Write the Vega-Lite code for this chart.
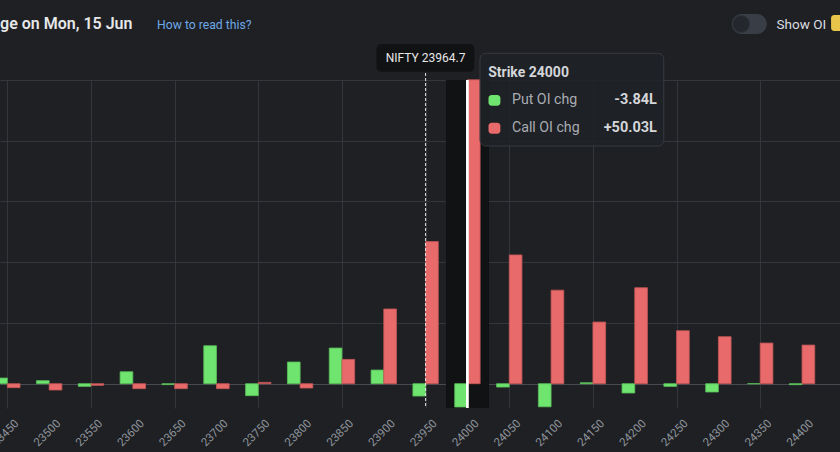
{
  "$schema": "https://vega.github.io/schema/vega-lite/v6.json",
  "width": 840,
  "height": 328,
  "autosize": {"type": "none"},
  "padding": {"top": 80, "left": 0, "right": 0, "bottom": 44},
  "background": "#1e2024",
  "config": {"view": {"stroke": null}, "font": "Roboto"},
  "datasets": {
    "oi": [
      {"strike": 23450, "put": 0.93, "call": -0.65},
      {"strike": 23500, "put": 0.5, "call": -1.04},
      {"strike": 23550, "put": -0.44, "call": -0.27},
      {"strike": 23600, "put": 1.97, "call": -0.82},
      {"strike": 23650, "put": -0.15, "call": -0.82},
      {"strike": 23700, "put": 6.25, "call": -0.82},
      {"strike": 23750, "put": -1.97, "call": 0.22},
      {"strike": 23800, "put": 3.57, "call": -0.71},
      {"strike": 23850, "put": 5.87, "call": 4.0},
      {"strike": 23900, "put": 2.25, "call": 12.3},
      {"strike": 23950, "put": -2.03, "call": 23.4},
      {"strike": 24000, "put": -3.84, "call": 50.03},
      {"strike": 24050, "put": -0.55, "call": 21.2},
      {"strike": 24100, "put": -3.8, "call": 15.4},
      {"strike": 24150, "put": 0.16, "call": 10.15},
      {"strike": 24200, "put": -1.53, "call": 15.8},
      {"strike": 24250, "put": -0.44, "call": 8.72},
      {"strike": 24300, "put": -1.37, "call": 7.74},
      {"strike": 24350, "put": 0, "call": 6.69},
      {"strike": 24400, "put": -0.16, "call": 6.36}
    ],
    "spot": [{"index": "NIFTY", "spot": 23964.7, "atm": 23950}]
  },
  "data": {"name": "oi"},
  "layer": [
    {
      "mark": {"type": "rect", "color": "#111213"},
      "encoding": {
        "x": {"datum": 23975, "type": "quantitative"},
        "x2": {"datum": 24025},
        "y": {"datum": 50, "type": "quantitative"},
        "y2": {"datum": -4}
      }
    },
    {
      "mark": {"type": "bar", "width": 12.7, "xOffset": -6.35, "color": "#6fe46f", "stroke": "#5bbf5b", "strokeWidth": 0.8},
      "encoding": {
        "x": {
          "field": "strike",
          "type": "quantitative",
          "scale": {"domain": [23447.2, 24439.4], "nice": false, "zero": false},
          "axis": {
            "values": [23450, 23500, 23550, 23600, 23650, 23700, 23750, 23800, 23850, 23900, 23950, 24000, 24050, 24100, 24150, 24200, 24250, 24300, 24350, 24400, 24450],
            "format": "d",
            "title": null,
            "grid": true,
            "gridColor": "#33363b",
            "gridOpacity": {"condition": {"test": "datum.value % 100 === 50", "value": 1}, "value": 0},
            "ticks": false,
            "domain": false,
            "labelAngle": -45,
            "labelAlign": "center",
            "labelBaseline": "middle",
            "labelPadding": 25,
            "labelOffset": -2,
            "labelColor": "#8f949b",
            "labelFontSize": 11.5,
            "labelOverlap": false,
            "labelFlush": false,
            "labelBound": false
          }
        },
        "y": {
          "field": "put",
          "type": "quantitative",
          "stack": null,
          "scale": {"domain": [-4, 50], "nice": false, "zero": false},
          "axis": {
            "values": [0, 10, 20, 30, 40, 50],
            "title": null,
            "grid": true,
            "gridColor": {"condition": {"test": "datum.value === 0", "value": "#474a50"}, "value": "#33363b"},
            "labels": false,
            "ticks": false,
            "domain": false
          }
        },
        "y2": {"datum": 0}
      }
    },
    {
      "mark": {"type": "bar", "width": 12.7, "xOffset": 6.35, "color": "#e86a6a", "stroke": "#c45757", "strokeWidth": 0.8},
      "encoding": {
        "x": {"field": "strike", "type": "quantitative"},
        "y": {"field": "call", "type": "quantitative", "stack": null},
        "y2": {"datum": 0}
      }
    },
    {
      "mark": {"type": "rule", "color": "#ffffff", "strokeWidth": 1.3},
      "encoding": {
        "x": {"datum": 24000, "type": "quantitative"},
        "y": {"datum": 50, "type": "quantitative"},
        "y2": {"datum": -4}
      }
    },
    {
      "data": {"name": "spot"},
      "mark": {"type": "rule", "color": "#e6e6e6", "strokeWidth": 1, "strokeDash": [3, 2]},
      "encoding": {
        "x": {"field": "atm", "type": "quantitative"},
        "y": {"datum": 51.15, "type": "quantitative"},
        "y2": {"datum": -4}
      }
    },
    {
      "data": {"name": "spot"},
      "mark": {"type": "rect", "color": "#111214", "cornerRadius": 5},
      "encoding": {
        "x": {"datum": 23891.3, "type": "quantitative"},
        "x2": {"datum": 24008.3},
        "y": {"datum": 55.93, "type": "quantitative"},
        "y2": {"datum": 51.37}
      }
    },
    {
      "data": {"name": "spot"},
      "transform": [{"calculate": "datum.index + ' ' + datum.spot", "as": "label"}],
      "mark": {"type": "text", "align": "center", "baseline": "middle", "fontSize": 12, "color": "#e8e8e8"},
      "encoding": {
        "x": {"field": "atm", "type": "quantitative"},
        "y": {"datum": 53.62, "type": "quantitative"},
        "text": {"field": "label"}
      }
    },
    {
      "transform": [{"filter": "datum.strike === 24000"}],
      "mark": {"type": "rect", "color": "#1f2226", "opacity": 0.88, "stroke": "#3b3e44", "strokeWidth": 1, "cornerRadius": 6},
      "encoding": {
        "x": {"datum": 24015.0, "type": "quantitative"},
        "x2": {"datum": 24234.7},
        "y": {"datum": 54.4, "type": "quantitative"},
        "y2": {"datum": 39.13}
      }
    },
    {
      "transform": [
        {"filter": "datum.strike === 24000"},
        {"calculate": "'Strike ' + datum.strike", "as": "head"}
      ],
      "mark": {"type": "text", "align": "left", "baseline": "alphabetic", "fontSize": 14, "fontWeight": "bold", "color": "#d4d6d9"},
      "encoding": {
        "x": {"datum": 24024.8, "type": "quantitative"},
        "y": {"datum": 50.54, "type": "quantitative"},
        "text": {"field": "head"}
      }
    },
    {
      "transform": [{"filter": "datum.strike === 24000"}],
      "mark": {"type": "rect", "color": "#6fe46f", "cornerRadius": 3},
      "encoding": {
        "x": {"datum": 24025.2, "type": "quantitative"},
        "x2": {"datum": 24039.4},
        "y": {"datum": 47.55, "type": "quantitative"},
        "y2": {"datum": 45.75}
      }
    },
    {
      "transform": [{"filter": "datum.strike === 24000"}],
      "mark": {"type": "rect", "color": "#e86a6a", "cornerRadius": 3},
      "encoding": {
        "x": {"datum": 24025.2, "type": "quantitative"},
        "x2": {"datum": 24039.4},
        "y": {"datum": 42.95, "type": "quantitative"},
        "y2": {"datum": 41.15}
      }
    },
    {
      "transform": [{"filter": "datum.strike === 24000"}],
      "mark": {"type": "text", "align": "left", "baseline": "middle", "fontSize": 14.2, "color": "#a9acb2", "text": "Put OI chg"},
      "encoding": {
        "x": {"datum": 24053.2, "type": "quantitative"},
        "y": {"datum": 46.66, "type": "quantitative"}
      }
    },
    {
      "transform": [{"filter": "datum.strike === 24000"}],
      "mark": {"type": "text", "align": "left", "baseline": "middle", "fontSize": 14.2, "color": "#a9acb2", "text": "Call OI chg"},
      "encoding": {
        "x": {"datum": 24053.2, "type": "quantitative"},
        "y": {"datum": 42.02, "type": "quantitative"}
      }
    },
    {
      "transform": [
        {"filter": "datum.strike === 24000"},
        {"calculate": "(datum.put < 0 ? '-' : '+') + format(abs(datum.put), '.2f') + 'L'", "as": "pt"}
      ],
      "mark": {"type": "text", "align": "right", "baseline": "middle", "fontSize": 14.5, "fontWeight": "bold", "color": "#d4d6d9"},
      "encoding": {
        "x": {"datum": 24226.5, "type": "quantitative"},
        "y": {"datum": 46.66, "type": "quantitative"},
        "text": {"field": "pt"}
      }
    },
    {
      "transform": [
        {"filter": "datum.strike === 24000"},
        {"calculate": "(datum.call < 0 ? '-' : '+') + format(abs(datum.call), '.2f') + 'L'", "as": "ct"}
      ],
      "mark": {"type": "text", "align": "right", "baseline": "middle", "fontSize": 14.5, "fontWeight": "bold", "color": "#d4d6d9"},
      "encoding": {
        "x": {"datum": 24226.5, "type": "quantitative"},
        "y": {"datum": 42.02, "type": "quantitative"},
        "text": {"field": "ct"}
      }
    },
    {
      "transform": [{"filter": "datum.strike === 24000"}],
      "mark": {"type": "text", "align": "left", "baseline": "alphabetic", "fontSize": 16, "fontWeight": 600, "color": "#e6e7e9", "text": "ge on Mon, 15 Jun"},
      "encoding": {
        "x": {"datum": 23441.3, "type": "quantitative"},
        "y": {"datum": 58.4, "type": "quantitative"}
      }
    },
    {
      "transform": [{"filter": "datum.strike === 24000"}],
      "mark": {"type": "text", "align": "left", "baseline": "alphabetic", "fontSize": 12.2, "color": "#6fa8e6", "text": "How to read this?"},
      "encoding": {
        "x": {"datum": 23629.0, "type": "quantitative"},
        "y": {"datum": 58.4, "type": "quantitative"}
      }
    },
    {
      "transform": [{"filter": "datum.strike === 24000"}],
      "mark": {"type": "rect", "color": "#393d45", "cornerRadius": 10},
      "encoding": {
        "x": {"datum": 24315.9, "type": "quantitative"},
        "x2": {"datum": 24357.9},
        "y": {"datum": 60.87, "type": "quantitative"},
        "y2": {"datum": 57.57}
      }
    },
    {
      "transform": [{"filter": "datum.strike === 24000"}],
      "mark": {"type": "point", "shape": "circle", "filled": true, "size": 289, "color": "#24272c", "stroke": "#30333a", "strokeWidth": 1, "opacity": 1},
      "encoding": {
        "x": {"datum": 24327.2, "type": "quantitative"},
        "y": {"datum": 59.22, "type": "quantitative"}
      }
    },
    {
      "transform": [{"filter": "datum.strike === 24000"}],
      "mark": {"type": "text", "align": "left", "baseline": "alphabetic", "fontSize": 13.5, "color": "#dcdde0", "text": "Show OI"},
      "encoding": {
        "x": {"datum": 24369.5, "type": "quantitative"},
        "y": {"datum": 58.4, "type": "quantitative"}
      }
    },
    {
      "transform": [{"filter": "datum.strike === 24000"}],
      "mark": {"type": "rect", "color": "#e8c54a", "cornerRadius": 3},
      "encoding": {
        "x": {"datum": 24434.7, "type": "quantitative"},
        "x2": {"datum": 24452},
        "y": {"datum": 60.7, "type": "quantitative"},
        "y2": {"datum": 58.05}
      }
    }
  ]
}
